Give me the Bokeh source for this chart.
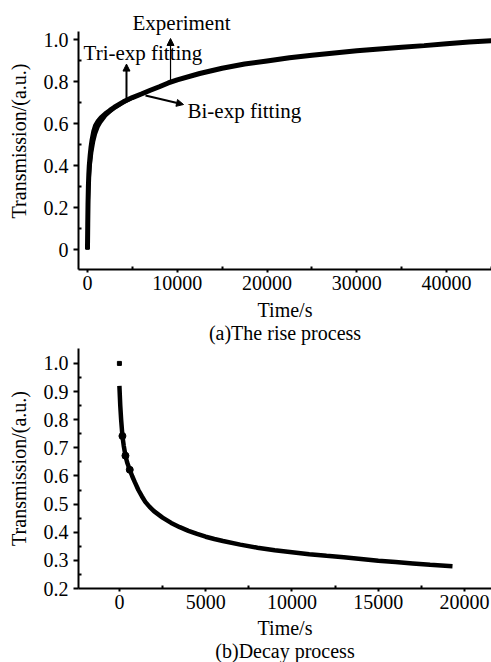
from bokeh.plotting import figure
from bokeh.layouts import column
from bokeh.models import FixedTicker, Title, Label, Arrow, NormalHead
from bokeh.embed import file_html
from bokeh.resources import INLINE

FONT = "Liberation Serif"

# ---------- (a) rise process ----------
rise_t = [0, 30, 60, 100, 150, 200, 300, 400, 500, 700, 900, 1200, 1500, 2000, 2500, 3000,
          4000, 5000, 6000, 7000, 8000, 9000, 10000, 12500, 15000, 17500, 20000, 22500,
          25000, 27500, 30000, 32500, 35000, 37500, 40000, 42500, 45000]
rise_exp = [0, 0.12, 0.22, 0.30, 0.36, 0.40, 0.45, 0.49, 0.52, 0.565, 0.592, 0.613, 0.628,
            0.648, 0.664, 0.679, 0.705, 0.725, 0.742, 0.76, 0.777, 0.795, 0.81, 0.84, 0.865,
            0.885, 0.90, 0.915, 0.927, 0.938, 0.948, 0.957, 0.965, 0.973, 0.982, 0.99, 0.996]
rise_tri = [0, 0.11, 0.20, 0.28, 0.34, 0.38, 0.435, 0.475, 0.505, 0.55, 0.58, 0.605, 0.622,
            0.645, 0.662, 0.678, 0.704, 0.724, 0.742, 0.76, 0.777, 0.795, 0.81, 0.84, 0.865,
            0.885, 0.90, 0.915, 0.927, 0.938, 0.948, 0.957, 0.965, 0.973, 0.982, 0.99, 0.996]
rise_bi = [0, 0.08, 0.15, 0.22, 0.28, 0.33, 0.39, 0.43, 0.465, 0.515, 0.55, 0.585, 0.607,
           0.636, 0.656, 0.673, 0.70, 0.722, 0.741, 0.759, 0.776, 0.794, 0.809, 0.839, 0.864,
           0.885, 0.90, 0.915, 0.927, 0.938, 0.948, 0.957, 0.965, 0.973, 0.982, 0.99, 0.996]

rise_xticks = [0, 10000, 20000, 30000, 40000]
rise_xminor = [5000, 15000, 25000, 35000, 45000]
rise_yticks = [0, 0.2, 0.4, 0.6, 0.8, 1.0]
rise_yminor = [0.1, 0.3, 0.5, 0.7, 0.9]

# ---------- (b) decay process ----------
decay_t = [0, 50, 100, 175, 250, 350, 450, 600, 750, 900, 1100, 1300, 1500, 1750, 2000, 2500,
           3000, 3500, 4000, 4500, 5000, 5500, 6000, 7000, 8000, 9000, 10000, 11000, 12000,
           13000, 14000, 15000, 16000, 17000, 18000, 19300]
decay_y = [0.92, 0.85, 0.80, 0.742, 0.708, 0.672, 0.648, 0.622, 0.598, 0.577, 0.550, 0.528,
           0.508, 0.49, 0.475, 0.452, 0.433, 0.418, 0.405, 0.394, 0.384, 0.376, 0.369, 0.356,
           0.345, 0.336, 0.329, 0.322, 0.316, 0.311, 0.305, 0.299, 0.294, 0.289, 0.284, 0.279]
decay_start_t = [0]
decay_start_y = [1.0]
decay_mark_t = [175, 350, 600]
decay_mark_y = [0.742, 0.672, 0.622]

decay_xticks = [0, 5000, 10000, 15000, 20000]
decay_xminor = [-2500, 2500, 7500, 12500, 17500]
decay_yticks = [0.2, 0.3, 0.4, 0.5, 0.6, 0.7, 0.8, 0.9, 1.0]
decay_yminor = [0.25, 0.35, 0.45, 0.55, 0.65, 0.75, 0.85, 0.95]


def style(p, xt, xm, yt, ym, overrides=None):
    p.outline_line_color = None
    p.xgrid.visible = False
    p.ygrid.visible = False
    p.background_fill_color = "white"
    p.border_fill_color = "white"
    p.xaxis.ticker = FixedTicker(ticks=xt, minor_ticks=xm)
    p.yaxis.ticker = FixedTicker(ticks=yt, minor_ticks=ym)
    for ax in (p.xaxis[0], p.yaxis[0]):
        ax.axis_line_width = 2
        ax.axis_line_color = "black"
        ax.major_tick_line_width = 2
        ax.major_tick_line_color = "black"
        ax.major_tick_in = 0
        ax.minor_tick_line_width = 2
        ax.minor_tick_line_color = "black"
        ax.minor_tick_in = 3
        ax.minor_tick_out = 0
        ax.major_label_text_font = FONT
        ax.major_label_text_font_size = "20px"
        ax.major_label_text_color = "black"
        ax.axis_label_text_font = FONT
        ax.axis_label_text_font_size = "20px"
        ax.axis_label_text_font_style = "normal"
        ax.axis_label_text_color = "black"
    p.xaxis.major_tick_out = 3
    p.yaxis.major_tick_out = 5
    p.yaxis.major_label_standoff = 5
    p.yaxis.axis_label_standoff = 11
    p.xaxis.axis_label = "Time/s"
    p.yaxis.axis_label = "Transmission/(a.u.)"
    if overrides:
        p.yaxis.major_label_overrides = overrides


def caption(p, text):
    p.add_layout(Title(text=text, align="center", text_font=FONT,
                       text_font_size="20px", text_font_style="normal", text_color="black",
                       vertical_align="top", standoff=-3), "below")


p1 = figure(width=491, height=346, x_range=(-1000, 45000), y_range=(-0.095, 1.131),
            output_backend="svg", toolbar_location=None,
            min_border_left=78, min_border_right=0, min_border_top=12, min_border_bottom=77)
style(p1, rise_xticks, rise_xminor, rise_yticks, rise_yminor, {0: "0", 1: "1.0"})
p1.yaxis.bounds = (-0.095, 1.04)
p1.xaxis.major_label_standoff = 3
p1.xaxis.axis_label_standoff = 6
p1.line(rise_t, rise_exp, line_color="black", line_width=5)
p1.line(rise_t, rise_tri, line_color="black", line_width=3)
p1.line(rise_t, rise_bi, line_color="black", line_width=3)

p1.add_layout(Arrow(end=NormalHead(size=7, fill_color="black", line_color="black"),
                    x_start=9250, y_start=0.807, x_end=9250, y_end=1.007,
                    line_width=1.2, line_color="black"))
p1.add_layout(Arrow(end=NormalHead(size=7, fill_color="black", line_color="black"),
                    x_start=4345, y_start=0.721, x_end=4345, y_end=0.885,
                    line_width=2, line_color="black"))
p1.add_layout(Arrow(end=NormalHead(size=7, fill_color="black", line_color="black"),
                    x_start=6460, y_start=0.735, x_end=10700, y_end=0.692,
                    line_width=2, line_color="black"))
lab_kw = dict(text_font=FONT, text_font_size="21px", text_color="black", text_baseline="middle")
p1.add_layout(Label(x=10470, y=1.083, text="Experiment", text_align="center", **lab_kw))
p1.add_layout(Label(x=6180, y=0.94, text="Tri-exp fitting", text_align="center", **lab_kw))
p1.add_layout(Label(x=11140, y=0.663, text="Bi-exp fitting", text_align="left", **lab_kw))
caption(p1, "(a)The rise process")

p2 = figure(width=491, height=316, x_range=(-2370, 21560), y_range=(0.2, 1.053),
            output_backend="svg", toolbar_location=None,
            min_border_left=77, min_border_right=0, min_border_top=2, min_border_bottom=74)
style(p2, decay_xticks, decay_xminor, decay_yticks, decay_yminor, {1: "1.0"})
p2.xaxis.major_label_standoff = 3
p2.xaxis.axis_label_standoff = 5
p2.line(decay_t, decay_y, line_color="black", line_width=4.5)
p2.scatter(decay_start_t, decay_start_y, marker="square", size=4, color="black")
p2.scatter(decay_mark_t, decay_mark_y, marker="circle", size=7, color="black")
caption(p2, "(b)Decay process")

layout = column(p1, p2, spacing=0)
open("out.html", "w").write(file_html(layout, INLINE))
